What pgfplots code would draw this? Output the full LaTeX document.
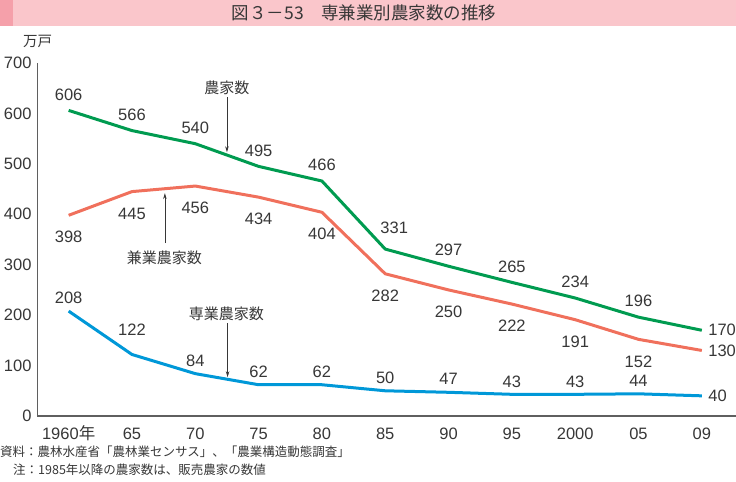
\documentclass[border=0pt]{standalone}
\usepackage{fontspec}
\setmainfont{Liberation Sans}
\newfontfamily\jp{Noto Sans CJK JP}
\usepackage{pgfplots}
\pgfplotsset{compat=1.18}
\usetikzlibrary{arrows.meta}
\definecolor{cgreen}{RGB}{0,155,80}
\definecolor{cred}{RGB}{240,112,92}
\definecolor{cblue}{RGB}{0,152,216}
\definecolor{bannerpink}{RGB}{250,198,203}
\definecolor{bannerdark}{RGB}{245,160,170}
\definecolor{txt}{RGB}{55,55,55}
\definecolor{axgray}{RGB}{95,95,95}
\newcommand{\numfont}{\fontsize{16.5bp}{16.5bp}\selectfont}
\begin{document}
\begin{tikzpicture}
\path[use as bounding box] (0,0) rectangle (736bp,-482bp);
\fill[bannerpink] (0,0) rectangle (736bp,-26bp);
\fill[bannerdark] (0,0) rectangle (13bp,-26bp);
\node[text=txt, font=\jp\fontsize{17.5bp}{17.5bp}\selectfont] at (364bp,-13bp) {図３－53　専兼業別農家数の推移};
\node[text=txt, font=\jp\fontsize{14.5bp}{14.5bp}\selectfont] at (37.5bp,-41.5bp) {万戸};
\begin{axis}[
  at={(37bp,-416bp)}, anchor=south west,
  scale only axis, width=699bp, height=353bp,
  xmin=-0.5, xmax=10.54, ymin=0, ymax=700,
  axis lines=left,
  axis line style={draw=axgray, line width=0.8bp, -},
  x axis line style={line width=1.5bp},
  major tick length=0pt,
  ytick={0,100,...,700},
  xtick={0,1,...,10},
  xticklabels={1960{\jp 年},65,70,75,80,85,90,95,2000,05,09},
  /pgf/number format/assume math mode=true,
  yticklabel style={font=\numfont, text=txt, xshift=-2bp},
  xticklabel style={font=\numfont, text=txt, anchor=base, yshift=-23.5bp},
  clip=false,
]
% lines
\addplot[cgreen, line width=3bp, line join=round] coordinates {(0,606)(1,566)(2,540)(3,495)(4,466)(5,331)(6,297)(7,265)(8,234)(9,196)(10,170)};
\addplot[cred, line width=3bp, line join=round] coordinates {(0,398)(1,445)(2,456)(3,434)(4,404)(5,282)(6,250)(7,222)(8,191)(9,152)(10,130)};
\addplot[cblue, line width=3bp, line join=round] coordinates {(0,208)(1,122)(2,84)(3,62)(4,62)(5,50)(6,47)(7,43)(8,43)(9,44)(10,40)};
% green labels above
\addplot[draw=none, point meta=explicit symbolic, nodes near coords,
  nodes near coords style={anchor=center, yshift=16bp, font=\numfont, text=txt}]
  coordinates {(0,606)[606](1,566)[566](2,540)[540](3,495)[495](4,466)[466](6,297)[297](7,265)[265](8,234)[234](9,196)[196]};
\addplot[draw=none, point meta=explicit symbolic, nodes near coords,
  nodes near coords style={anchor=center, yshift=21bp, xshift=9bp, font=\numfont, text=txt}]
  coordinates {(5,331)[331]};
% red labels below
\addplot[draw=none, point meta=explicit symbolic, nodes near coords,
  nodes near coords style={anchor=center, yshift=-22bp, font=\numfont, text=txt}]
  coordinates {(0,398)[398](1,445)[445](2,456)[456](3,434)[434](4,404)[404](5,282)[282](6,250)[250](7,222)[222](8,191)[191](9,152)[152]};
% blue labels above
\addplot[draw=none, point meta=explicit symbolic, nodes near coords,
  nodes near coords style={anchor=center, yshift=13bp, font=\numfont, text=txt}]
  coordinates {(0,208)[208](2,84)[84](3,62)[62](4,62)[62](5,50)[50](6,47)[47](7,43)[43](8,43)[43](9,44)[44]};
\addplot[draw=none, point meta=explicit symbolic, nodes near coords,
  nodes near coords style={anchor=center, yshift=25bp, font=\numfont, text=txt}]
  coordinates {(1,122)[122]};
% end labels
\addplot[draw=none, point meta=explicit symbolic, nodes near coords,
  nodes near coords style={anchor=west, xshift=3bp, font=\numfont, text=txt}]
  coordinates {(10,170)[170](10,130)[130](10,40)[40]};
% annotations
\node[text=txt, font=\jp\fontsize{15bp}{15bp}\selectfont] at (axis cs:2.5,650) {農家数};
\draw[-{Stealth[length=6bp,width=3.5bp]}, draw=txt, line width=0.7bp] (axis cs:2.5,632) -- (axis cs:2.5,523);
\node[text=txt, font=\jp\fontsize{15bp}{15bp}\selectfont] at (axis cs:1.51,313) {兼業農家数};
\draw[-{Stealth[length=6bp,width=3.5bp]}, draw=txt, line width=0.7bp] (axis cs:1.52,343) -- (axis cs:1.52,442);
\node[text=txt, font=\jp\fontsize{15bp}{15bp}\selectfont] at (axis cs:2.49,202) {専業農家数};
\draw[-{Stealth[length=6bp,width=3.5bp]}, draw=txt, line width=0.7bp] (axis cs:2.51,184) -- (axis cs:2.51,77);
\end{axis}
\node[anchor=west, inner sep=0pt, text=txt, font=\jp\fontsize{12.5bp}{12.5bp}\selectfont] at (0,-452bp) {資料：農林水産省「農林業センサス」、「農業構造動態調査」};
\node[anchor=west, inner sep=0pt, text=txt, font=\jp\fontsize{12.5bp}{12.5bp}\selectfont] at (13bp,-470bp) {注：1985年以降の農家数は、販売農家の数値};
\end{tikzpicture}
\end{document}
